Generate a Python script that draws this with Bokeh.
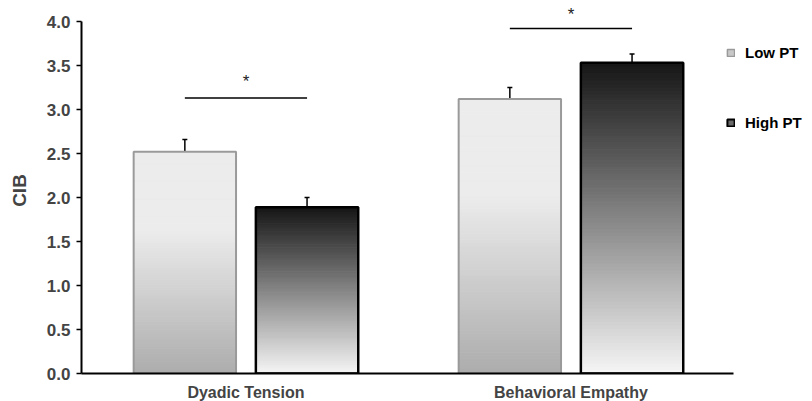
from bokeh.plotting import figure
from bokeh.models import (Range1d, FixedTicker, Whisker, TeeHead, ColumnDataSource,
                          Label, Legend, LegendItem, NumeralTickFormatter)
from bokeh.embed import file_html
from bokeh.resources import INLINE

# ---- data ----
categories = ["Dyadic Tension", "Behavioral Empathy"]
groups = ["Low PT", "High PT"]
low_pt = [2.52, 3.12]
high_pt = [1.89, 3.53]
low_err = [0.14, 0.13]
high_err = [0.11, 0.10]
sig_levels = [3.13, 3.92]
star_levels = [3.32, 4.08]
y_ticks = [0.0, 0.5, 1.0, 1.5, 2.0, 2.5, 3.0, 3.5, 4.0]

FONT = "Liberation Sans"
centers = [i + 1 for i in range(len(categories))]
OFF = 0.188
W = 0.315
PX_PER_Y = 88.0
PX_PER_X = 325.0
FRAME_W = 722
FRAME_H = 366
X0 = 0.494
NAN = float("nan")

p = figure(frame_width=FRAME_W, frame_height=FRAME_H, output_backend="svg", toolbar_location=None,
           x_range=Range1d(X0, X0 + FRAME_W / PX_PER_X), y_range=Range1d(0, FRAME_H / PX_PER_Y),
           min_border_left=81, min_border_top=7, min_border_right=1, min_border_bottom=0)
p.outline_line_color = None
p.xgrid.visible = False
p.ygrid.visible = False
p.background_fill_color = "white"


def gradient_bars(xs, vals, shade_fn, n=90):
    left, right, bottom, top, colors = [], [], [], [], []
    for x, v in zip(xs, vals):
        for k in range(n):
            b = v * k / n
            t = v * (k + 1) / n
            f = (k + 0.5) / n
            g = int(round(shade_fn(f)))
            left.append(x - W / 2)
            right.append(x + W / 2)
            bottom.append(b)
            top.append(t)
            colors.append("#%02x%02x%02x" % (g, g, g))
    p.quad(left=left, right=right, bottom=bottom, top=top, fill_color=colors,
           line_color=colors, line_width=1)


def low_shade(f):
    return 172 + (236 - 172) * min(1.0, f / 0.65)


def high_shade(f):
    return 246 - (246 - 22) * f


low_x = [c - OFF for c in centers]
high_x = [c + OFF for c in centers]

gradient_bars(low_x, low_pt, low_shade)
gradient_bars(high_x, high_pt, high_shade)

p.quad(left=[x - W / 2 for x in low_x], right=[x + W / 2 for x in low_x],
       bottom=[0] * len(low_x), top=low_pt, fill_color=None, line_color="#9a9a9a", line_width=2)
p.quad(left=[x - W / 2 for x in high_x], right=[x + W / 2 for x in high_x],
       bottom=[0] * len(high_x), top=high_pt, fill_color=None, line_color="black", line_width=2.5)

# error bars (upper only)
err_src = ColumnDataSource(dict(
    x=low_x + high_x,
    lower=low_pt + high_pt,
    upper=[v + e for v, e in zip(low_pt, low_err)] + [v + e for v, e in zip(high_pt, high_err)],
))
wh = Whisker(base="x", lower="lower", upper="upper", source=err_src, dimension="height",
             line_color="black", line_width=1.5,
             upper_head=TeeHead(size=5, line_color="black", line_width=1.5), lower_head=None)
p.add_layout(wh)

# significance lines and stars
p.segment(x0=low_x, x1=high_x, y0=sig_levels, y1=sig_levels, line_color="black", line_width=1.5)
for c, s in zip(centers, star_levels):
    p.add_layout(Label(x=c, y=s, text="*", text_font=FONT, text_font_size="17px",
                       text_align="center", text_baseline="middle", text_color="#222222"))

# legend (swatch-only renderers with no visible data)
r_low = p.quad(left=[NAN], right=[NAN], bottom=[NAN], top=[NAN], fill_color="#c8c8c8",
               line_color="#9a9a9a", line_width=1.5)
r_high = p.quad(left=[NAN], right=[NAN], bottom=[NAN], top=[NAN], fill_color="#6a6a6a",
                line_color="black", line_width=2)
legend = Legend(items=[LegendItem(label=groups[0], renderers=[r_low]),
                       LegendItem(label=groups[1], renderers=[r_high])],
                location=(645, FRAME_H - 36 - 88), orientation="vertical",
                glyph_width=9, glyph_height=9, label_height=18, spacing=52,
                label_standoff=10, padding=0, margin=0,
                border_line_color=None, background_fill_alpha=0,
                label_text_font=FONT, label_text_font_style="bold",
                label_text_font_size="15px", label_text_color="black")
p.add_layout(legend, "center")

# axes
p.yaxis.bounds = (0, 4.0)
p.yaxis.ticker = FixedTicker(ticks=y_ticks)
p.yaxis.formatter = NumeralTickFormatter(format="0.0")
p.yaxis.axis_label = "CIB"
p.yaxis.axis_label_text_font = FONT
p.yaxis.axis_label_text_font_style = "bold"
p.yaxis.axis_label_text_font_size = "19px"
p.yaxis.axis_label_standoff = 14
p.yaxis.major_label_text_font = FONT
p.yaxis.major_label_text_font_style = "bold"
p.yaxis.major_label_text_font_size = "17px"
p.yaxis.major_label_standoff = 6
p.yaxis.major_tick_out = 5
p.yaxis.major_tick_in = 0
p.yaxis.minor_tick_out = 0
p.yaxis.minor_tick_in = 0
p.yaxis.axis_line_width = 2
p.yaxis.major_tick_line_width = 1.5

p.xaxis.bounds = (X0, 2.5)
p.xaxis.ticker = FixedTicker(ticks=centers)
p.xaxis.major_label_overrides = {c: name for c, name in zip(centers, categories)}
p.xaxis.major_label_text_font = FONT
p.xaxis.major_label_text_font_style = "bold"
p.xaxis.major_label_text_font_size = "16px"
p.xaxis.major_label_standoff = 10
p.xaxis.major_tick_out = 0
p.xaxis.major_tick_in = 0
p.xaxis.minor_tick_out = 0
p.xaxis.minor_tick_in = 0
p.xaxis.axis_line_width = 2

open("out.html", "w").write(file_html(p, INLINE))
